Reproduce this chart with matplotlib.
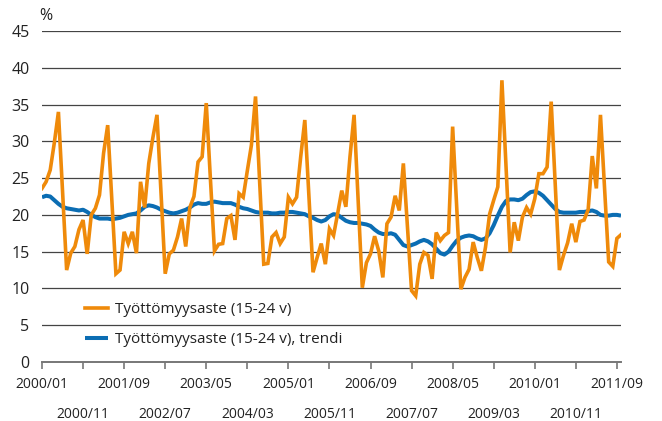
import matplotlib
matplotlib.use("Agg")
import matplotlib.pyplot as plt
import numpy as np

plt.rcParams['font.family'] = ['Open Sans', 'DejaVu Sans']

# Monthly data 2000/01 .. 2011/10
rate = [
    23.6, 24.5, 26.1, 29.8, 34.0, 23.2, 12.5, 14.8, 15.7, 18.0, 19.3, 14.7,   # 2000
    20.0, 20.9, 22.7, 28.4, 32.2, 22.0, 12.0, 12.5, 17.7, 16.1, 17.7, 14.8,   # 2001
    24.5, 21.0, 27.0, 30.5, 33.6, 22.8, 12.0, 14.7, 15.2, 17.0, 19.5, 15.7,   # 2002
    21.0, 22.5, 27.2, 27.9, 35.2, 25.0, 15.1, 16.0, 16.1, 19.5, 19.9, 16.6,   # 2003
    22.9, 22.4, 26.0, 29.5, 36.1, 24.5, 13.3, 13.4, 17.0, 17.6, 16.1, 17.0,   # 2004
    22.4, 21.5, 22.4, 27.9, 32.9, 22.5, 12.2, 14.2, 16.1, 13.3, 18.1, 17.2,   # 2005
    20.2, 23.3, 21.1, 27.9, 33.6, 21.8, 10.1, 13.5, 14.7, 17.1, 15.1, 11.5,   # 2006
    18.8, 19.7, 22.6, 20.6, 27.0, 18.3, 9.7, 9.0, 13.3, 14.9, 14.5, 11.3,     # 2007
    17.6, 16.5, 17.2, 17.6, 32.0, 21.0, 9.9, 11.5, 12.6, 16.3, 14.2, 12.4,    # 2008
    15.6, 20.1, 22.0, 23.8, 38.3, 26.6, 14.9, 19.0, 16.5, 19.7, 21.0, 20.1,   # 2009
    22.2, 25.6, 25.6, 26.5, 35.4, 24.0, 12.5, 14.5, 16.2, 18.8, 16.3, 19.1,   # 2010
    19.3, 20.7, 28.0, 23.6, 33.6, 23.6, 13.6, 13.0, 16.8, 17.3,               # 2011
]
trend = [
    22.4, 22.6, 22.5, 22.0, 21.5, 21.1, 20.9, 20.8, 20.7, 20.6, 20.7, 20.4,
    20.0, 19.7, 19.5, 19.5, 19.5, 19.4, 19.5, 19.6, 19.8, 20.0, 20.1, 20.2,
    20.6, 21.1, 21.3, 21.2, 21.0, 20.7, 20.5, 20.3, 20.2, 20.3, 20.5, 20.7,
    21.0, 21.4, 21.6, 21.5, 21.5, 21.7, 21.8, 21.7, 21.6, 21.6, 21.6, 21.4,
    21.1, 20.9, 20.8, 20.6, 20.4, 20.3, 20.3, 20.3, 20.2, 20.2, 20.3, 20.3,
    20.4, 20.4, 20.3, 20.2, 20.1, 19.8, 19.6, 19.3, 19.1, 19.3, 19.8, 20.1,
    20.0, 19.6, 19.2, 19.0, 18.9, 18.9, 18.8, 18.7, 18.5, 18.0, 17.6, 17.4,
    17.4, 17.5, 17.3, 16.6, 15.9, 15.7, 15.9, 16.1, 16.4, 16.6, 16.4, 16.0,
    15.4, 14.8, 14.6, 15.0, 15.8, 16.5, 16.9, 17.1, 17.2, 17.1, 16.8, 16.6,
    16.8, 17.5, 18.6, 19.9, 21.1, 21.9, 22.1, 22.1, 22.0, 22.2, 22.7, 23.1,
    23.2, 23.0, 22.6, 22.0, 21.4, 20.8, 20.4, 20.3, 20.3, 20.3, 20.3, 20.4,
    20.4, 20.5, 20.6, 20.4, 20.0, 19.9, 19.9, 20.0, 20.0, 19.9,
]
tick_labels = ["2000/01", "2000/11", "2001/09", "2002/07", "2003/05", "2004/03",
               "2005/01", "2005/11", "2006/09", "2007/07", "2008/05", "2009/03",
               "2010/01", "2010/11", "2011/09"]
label_rate = "Työttömyysaste (15-24 v)"
label_trend = "Työttömyysaste (15-24 v), trendi"

orange = "#EF8A0A"
blue = "#0B6DB3"

fig = plt.figure(figsize=(6.62, 4.21), dpi=100)
ax = fig.add_axes([42/662, 59/421, 579/662, 331/421])

x = np.arange(len(rate))
xt = np.arange(len(trend))
ax.plot(xt, trend, color=blue, lw=2.9, solid_capstyle='butt', zorder=3, label=label_trend)
ax.plot(x, rate, color=orange, lw=2.6, solid_joinstyle='miter', zorder=4, label=label_rate)

ax.set_xlim(0, len(rate) - 1)
ax.set_ylim(0, 45)
ax.set_yticks(np.arange(0, 46, 5))
ax.yaxis.grid(True, color="#444444", lw=0.9)
ax.set_axisbelow(True)
for s in ['left', 'right', 'top']:
    ax.spines[s].set_visible(False)
ax.spines['bottom'].set_color('#777777')
ax.spines['bottom'].set_linewidth(1.4)
ax.tick_params(axis='y', length=0, labelsize=11.5, pad=9, colors='#222222')

tick_pos = np.arange(0, 10 * len(tick_labels), 10)
ax.set_xticks(tick_pos)
ax.set_xticklabels([""] * len(tick_labels))
ax.tick_params(axis='x', length=5, width=1.2, color='#777777', direction='out')
for i, (p, lab) in enumerate(zip(tick_pos, tick_labels)):
    yoff = -16.5 if i % 2 == 0 else -37.5
    ax.annotate(lab, xy=(p, 0), xycoords='data', xytext=(0, yoff), textcoords='offset points',
                ha='center', va='center', fontsize=10, color='#222222', annotation_clip=False)

ax.text(-0.005, 1.045, "%", transform=ax.transAxes, fontsize=11.5, ha='left', va='center', color='#222222')

handles, labels = ax.get_legend_handles_labels()
leg = ax.legend(handles[::-1], labels[::-1], loc='center left',
                bbox_to_anchor=(0.05, 0.113), frameon=False, fontsize=11,
                handlelength=1.5, handletextpad=0.5, labelspacing=0.95)
for t in leg.get_texts():
    t.set_color('#222222')

fig.savefig("out.png", dpi=100)
